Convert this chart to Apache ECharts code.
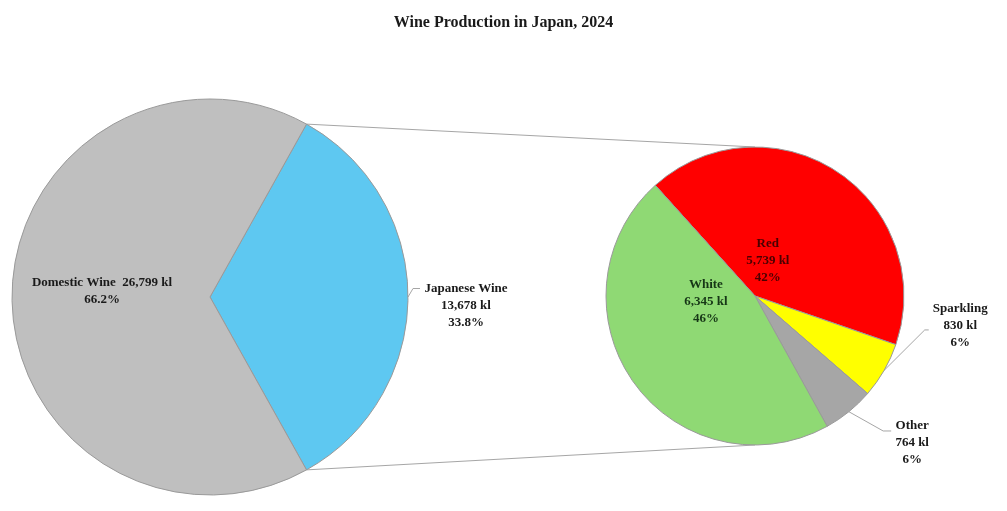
<!DOCTYPE html>
<html>
<head>
    <meta charset="utf-8">
    <title>Wine Production in Japan</title>
    <script src="https://cdn.jsdelivr.net/npm/echarts@6/dist/echarts.min.js"></script>
</head>
<body style="margin:0;background:#fff;">
    <div id="main" style="width:1007px;height:511px;"></div>
    <script type="text/javascript">

    // data
    var titleText = 'Wine Production in Japan, 2024';
    var mainNames = ['Japanese Wine', 'Domestic Wine'];
    var mainValues = [13678, 26799];
    var typeNames = ['Red', 'Sparkling', 'Other', 'White'];
    var typeValues = [5739, 830, 764, 6345];

    var mainColors = ['#5ec8f1', '#bfbfbf'];
    var typeColors = ['#ff0000', '#ffff00', '#a6a6a6', '#8fd974'];

    var font = 'Liberation Serif';
    var leftC = [210, 297], leftR = 198;
    var rightC = [755, 296], rightR = 149;

    var ctx = document.createElement('canvas').getContext('2d');
    ctx.font = 'bold 13px "' + font + '"';
    function textW(s) { return Math.ceil(ctx.measureText(s).width) + 2; }
    function kl(v) { return v.toLocaleString('en-US') + ' kl'; }

    // labels drawn outside: centred lines inside a fixed-width block
    function outsideLabel(name, value, color) {
        var w = Math.max(textW(name), textW(kl(value)));
        return {
            show: true,
            position: 'outside',
            formatter: function (p) {
                return '{c|' + p.name + '}\n{c|' + kl(p.value) + '}\n{c|' + p.percent + '%}';
            },
            rich: {
                c: { width: w, align: 'center', lineHeight: 17, fontFamily: font,
                     fontWeight: 'bold', fontSize: 13, color: color }
            }
        };
    }
    function insideLabel(color) {
        return {
            show: true,
            position: 'inside',
            color: color,
            formatter: function (p) {
                return p.name + '\n' + kl(p.value) + '\n' + p.percent + '%';
            }
        };
    }

    var mainData = [
        { name: mainNames[0], value: mainValues[0], itemStyle: { color: mainColors[0] },
          label: outsideLabel(mainNames[0], mainValues[0], '#1a1a1a'),
          labelLine: { show: true, length: 6, length2: 4 } },
        { name: mainNames[1], value: mainValues[1], itemStyle: { color: mainColors[1] },
          label: { show: true, position: 'inside', color: '#1a1a1a',
                   formatter: function (p) { return p.name + '  ' + kl(p.value) + '\n' + p.percent + '%'; } } }
    ];

    var typeLabelColors = ['#4a0000', '#1a1a1a', '#1a1a1a', '#163616'];
    var typeData = typeNames.map(function (n, i) {
        var item = { name: n, value: typeValues[i], itemStyle: { color: typeColors[i] } };
        if (n === 'Sparkling' || n === 'Other') {
            item.label = outsideLabel(n, typeValues[i], typeLabelColors[i]);
            item.labelLine = { show: true, length: 10, length2: 4 };
        } else {
            item.label = insideLabel(typeLabelColors[i]);
        }
        return item;
    });

    var mainTotal = mainValues[0] + mainValues[1];
    var mainStart = mainValues[0] / mainTotal * 180;
    var th = mainStart * Math.PI / 180;
    var p1 = [leftC[0] + leftR * Math.cos(th), leftC[1] - leftR * Math.sin(th)];
    var p2 = [leftC[0] + leftR * Math.cos(th), leftC[1] + leftR * Math.sin(th)];

    // label nudges [dx, dy, guide end below label top, last guide segment]
    var mainShift = [[0, 9, 8, 7], [-6, -6]];
    var typeShift = [[-30, 29], [30, -50, 30, 4], [30, 23, 14, 8], [14, -39]];

    function nudge(table) {
        return function (p) {
            var s = table[p.dataIndex];
            var out = { dx: s[0], dy: s[1] };
            if (p.labelLinePoints && s.length > 2) {
                var r = p.labelRect;
                var ex = r.x + s[0] - 3, ey = r.y + s[1] + s[2];
                out.labelLinePoints = [p.labelLinePoints[0], [ex - s[3], ey], [ex, ey]];
            }
            return out;
        };
    }

    var labelBase = { fontFamily: font, fontWeight: 'bold', fontSize: 13, lineHeight: 17 };
    var lineStyle = { color: '#a6a6a6', width: 1 };

    var myChart = echarts.init(document.getElementById('main'));
    var option = {
        animation: false,
        backgroundColor: '#ffffff',
        title: {
            text: titleText,
            left: 'center',
            top: 10,
            textStyle: { fontFamily: font, fontWeight: 'bold', fontSize: 16, color: '#1a1a1a' }
        },
        graphic: [
            { type: 'line', z: 0, shape: { x1: p1[0], y1: p1[1], x2: rightC[0], y2: rightC[1] - rightR }, style: { stroke: '#a6a6a6', lineWidth: 1 } },
            { type: 'line', z: 0, shape: { x1: p2[0], y1: p2[1], x2: rightC[0], y2: rightC[1] + rightR }, style: { stroke: '#a6a6a6', lineWidth: 1 } }
        ],
        series: [
            {
                type: 'pie',
                center: leftC,
                radius: leftR,
                startAngle: mainStart,
                percentPrecision: 1,
                avoidLabelOverlap: false,
                itemStyle: { borderColor: '#9a9a9a', borderWidth: 1 },
                label: labelBase,
                labelLine: { lineStyle: lineStyle },
                emphasis: { disabled: true },
                labelLayout: nudge(mainShift),
                data: mainData
            },
            {
                type: 'pie',
                center: rightC,
                radius: rightR,
                startAngle: 132,
                percentPrecision: 0,
                avoidLabelOverlap: false,
                itemStyle: { borderColor: '#9a9a9a', borderWidth: 1 },
                label: labelBase,
                labelLine: { lineStyle: lineStyle },
                emphasis: { disabled: true },
                labelLayout: nudge(typeShift),
                data: typeData
            }
        ]
    };
    myChart.setOption(option);
    </script>
</body>
</html>
